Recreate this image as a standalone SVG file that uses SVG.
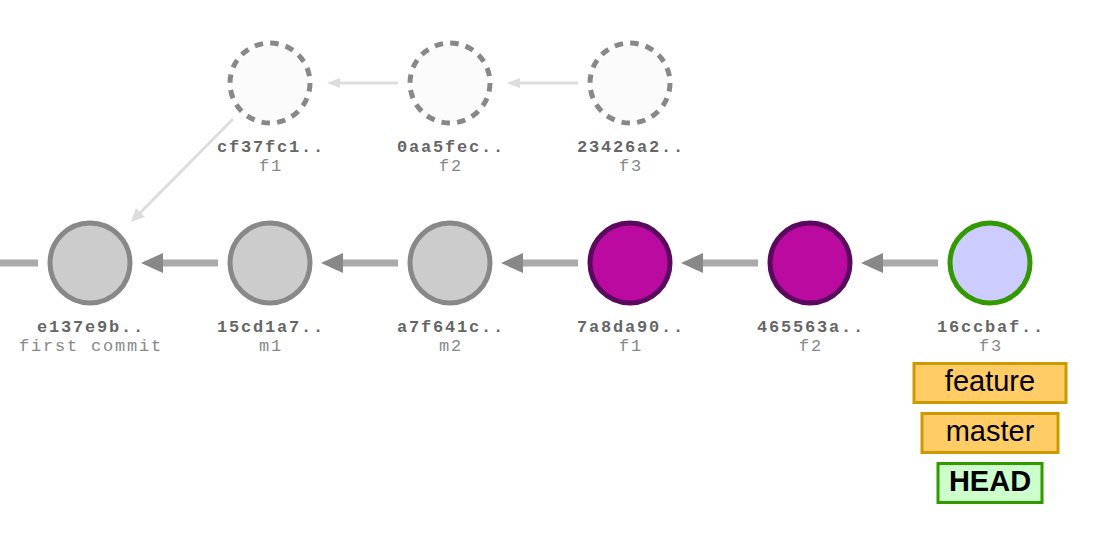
<svg xmlns="http://www.w3.org/2000/svg" width="1116" height="553" viewBox="0 0 1116 553">
<style>
.c{stroke-width:5}
.gray{fill:#cccccc;stroke:#888888}
.pur{fill:#bb0aa0;stroke:#5a0a5e}
.head{fill:#ccccff;stroke:#339900}
.ghost{fill:#fbfbfb;stroke:#888888;stroke-dasharray:8.5 7.2}
.e{stroke:#aaaaaa;stroke-width:7;fill:none}
.el{stroke:#dddddd;stroke-width:3;fill:none}
.ah{fill:#888888}
.ahl{fill:#dddddd}
.h{font-family:"Liberation Mono","Courier New",monospace;font-weight:bold;font-size:17px;letter-spacing:1.8px;fill:#666666;text-anchor:middle}
.m{font-family:"Liberation Mono","Courier New",monospace;font-size:17px;letter-spacing:1.8px;fill:#888888;text-anchor:middle}
.b{font-family:"Liberation Sans",Arial,sans-serif;font-size:29px;fill:#000;text-anchor:middle}
</style>
<g id="connectors">
<line class="e" x1="0" y1="263" x2="38" y2="263"/>
<line class="e" x1="162" y1="263" x2="218" y2="263"/><polygon class="ah" points="141,263 163,253 163,273"/>
<line class="e" x1="342" y1="263" x2="398" y2="263"/><polygon class="ah" points="321,263 343,253 343,273"/>
<line class="e" x1="522" y1="263" x2="578" y2="263"/><polygon class="ah" points="501,263 523,253 523,273"/>
<line class="e" x1="702" y1="263" x2="758" y2="263"/><polygon class="ah" points="681,263 703,253 703,273"/>
<line class="e" x1="882" y1="263" x2="938" y2="263"/><polygon class="ah" points="861,263 883,253 883,273"/>
<line class="el" x1="338" y1="83" x2="398" y2="83"/><polygon class="ahl" points="327,83 340,78 340,88"/>
<line class="el" x1="518" y1="83" x2="578" y2="83"/><polygon class="ahl" points="507,83 520,78 520,88"/>
<line class="el" x1="233" y1="119" x2="140" y2="213"/><polygon class="ahl" points="131,222 136,208 145,217"/>
</g>
<g id="n-e137e9b"><circle class="c gray" cx="90" cy="263" r="40"/><text class="h" x="91" y="332">e137e9b..</text><text class="m" x="91" y="351">first commit</text></g>
<g id="n-15cd1a7"><circle class="c gray" cx="270" cy="263" r="40"/><text class="h" x="271" y="332">15cd1a7..</text><text class="m" x="271" y="351">m1</text></g>
<g id="n-a7f641c"><circle class="c gray" cx="450" cy="263" r="40"/><text class="h" x="451" y="332">a7f641c..</text><text class="m" x="451" y="351">m2</text></g>
<g id="n-7a8da90"><circle class="c pur" cx="630" cy="263" r="40"/><text class="h" x="631" y="332">7a8da90..</text><text class="m" x="631" y="351">f1</text></g>
<g id="n-465563a"><circle class="c pur" cx="810" cy="263" r="40"/><text class="h" x="811" y="332">465563a..</text><text class="m" x="811" y="351">f2</text></g>
<g id="n-16ccbaf"><circle class="c head" cx="990" cy="263" r="40"/><text class="h" x="991" y="332">16ccbaf..</text><text class="m" x="991" y="351">f3</text></g>
<g id="n-cf37fc1"><circle class="c ghost" cx="270" cy="83" r="40"/><text class="h" x="271" y="152">cf37fc1..</text><text class="m" x="271" y="171">f1</text></g>
<g id="n-0aa5fec"><circle class="c ghost" cx="450" cy="83" r="40"/><text class="h" x="451" y="152">0aa5fec..</text><text class="m" x="451" y="171">f2</text></g>
<g id="n-23426a2"><circle class="c ghost" cx="630" cy="83" r="40"/><text class="h" x="631" y="152">23426a2..</text><text class="m" x="631" y="171">f3</text></g>
<g id="b-feature"><rect x="914" y="363.5" width="152" height="39" fill="#ffcc66" stroke="#cc9900" stroke-width="3"/><text class="b" x="990" y="391">feature</text></g>
<g id="b-master"><rect x="922" y="413.5" width="136" height="39" fill="#ffcc66" stroke="#cc9900" stroke-width="3"/><text class="b" x="990" y="441">master</text></g>
<g id="b-head"><rect x="938" y="463.5" width="104" height="39" fill="#ccffcc" stroke="#339900" stroke-width="3"/><text class="b" x="990" y="491" font-weight="bold">HEAD</text></g>
</svg>
